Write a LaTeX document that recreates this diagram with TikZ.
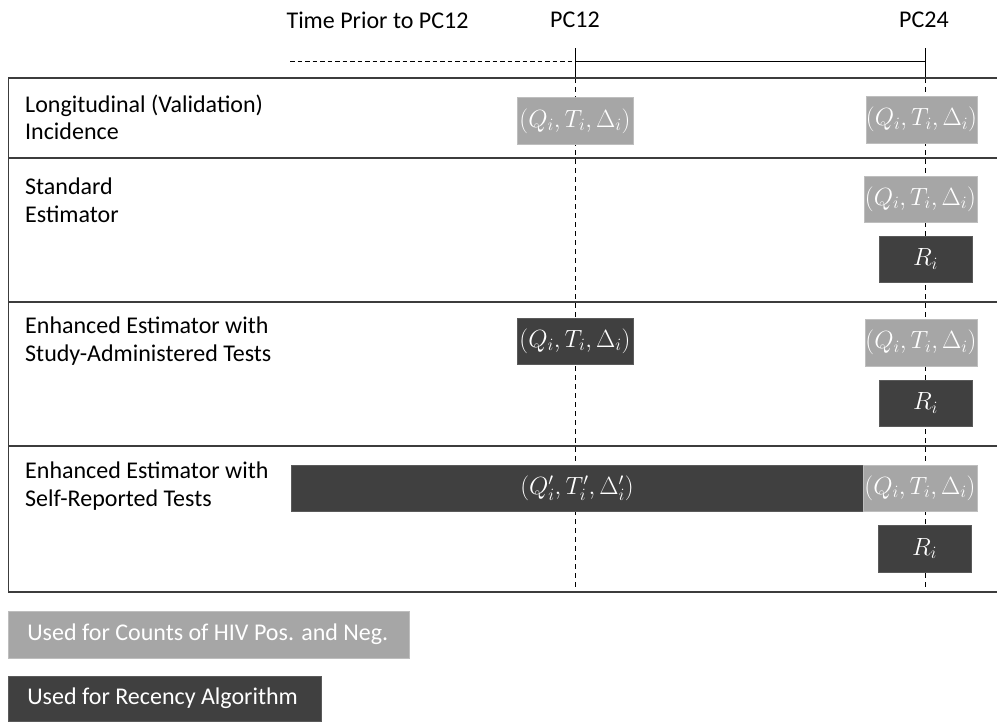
\documentclass[tikz,border=0pt]{standalone}
\usepackage{fontspec}
\setmainfont{Carlito}
\definecolor{figcolor0001}{RGB}{64,64,64}
\definecolor{figcolor0002}{RGB}{166,166,166}
\definecolor{figcolor0003}{RGB}{60,60,60}
\definecolor{figcolor0004}{RGB}{190,190,190}
\definecolor{figcolor0005}{RGB}{90,90,90}

\begin{document}
\begin{tikzpicture}[yscale=-1
            ,lightbox/.style={fill=figcolor0002,draw=figcolor0004,line width=0.6pt,text=white,inner sep=0pt,font=\fontsize{23}{26}\selectfont}
            ,darkbox/.style={fill=figcolor0001,draw=figcolor0005,line width=0.6pt,text=white,inner sep=0pt,font=\fontsize{23}{26}\selectfont}
            ,keybox/.style={anchor=west,inner xsep=19pt,inner ysep=0pt,font=\fontsize{24}{28}\selectfont}
            ,rowlabel/.style={anchor=west,inner sep=0pt,align=left,font=\fontsize{24}{27.5}\selectfont}
            ,headlabel/.style={inner sep=0pt,font=\fontsize{24}{28}\selectfont}
            ,rowrule/.style={color=figcolor0003,line width=1.3pt}
            ,guideline/.style={color=black,line width=0.8pt,dash pattern=on 4.5pt off 4.5pt}
            ,tline/.style={color=black,line width=0.8pt}
        ]
        \useasboundingbox (0pt,0pt) rectangle (997pt,721pt);
        \node[headlabel] (prior) at (377.5pt,20pt) {Time Prior to PC12};
        \node[headlabel] (pc12) at (575pt,20pt) {PC12};
        \node[headlabel] (pc24) at (924pt,20pt) {PC24};
        \coordinate (tstart) at (290pt,61pt);
        \coordinate (tpc12) at (575pt,61pt);
        \coordinate (tpc24) at (925pt,61pt);
        \coordinate (tick12top) at (575pt,48pt);
        \coordinate (tick12bot) at (575pt,78pt);
        \coordinate (tick24top) at (925pt,48pt);
        \coordinate (tick24bot) at (925pt,78pt);
        \coordinate (guide12end) at (575pt,592pt);
        \coordinate (guide24end) at (925pt,592pt);
        \draw[tline,dash pattern=on 4.5pt off 3pt] (tstart) -- (tpc12);
        \draw[tline] (tpc12) -- (tpc24);
        \draw[tline] (tick12top) -- (tick12bot);
        \draw[tline] (tick24top) -- (tick24bot);
        \draw[guideline] (tick12bot) -- (guide12end);
        \draw[guideline] (tick24bot) -- (guide24end);
        \draw[rowrule] (8pt,78pt) -- (997pt,78pt);
        \draw[rowrule] (8pt,158pt) -- (997pt,158pt);
        \draw[rowrule] (8pt,302pt) -- (997pt,302pt);
        \draw[rowrule] (8pt,446pt) -- (997pt,446pt);
        \draw[rowrule] (8pt,592pt) -- (997pt,592pt);
        \draw[rowrule,line width=1pt] (8pt,78pt) -- (8pt,592pt);
        \node[rowlabel] (longlab) at (25pt,117.5pt) {Longitudinal (Validation)\\Incidence};
        \node[lightbox,minimum width=116pt,minimum height=47pt] (longa) at (575pt,121pt) {$(Q_i,T_i,\Delta_i)$};
        \node[lightbox,minimum width=111pt,minimum height=47pt] (longb) at (921.5pt,119.5pt) {$(Q_i,T_i,\Delta_i)$};
        \node[rowlabel] (stdlab) at (25pt,200pt) {Standard\\Estimator};
        \node[lightbox,minimum width=113pt,minimum height=46pt] (stda) at (920.5pt,199pt) {$(Q_i,T_i,\Delta_i)$};
        \node[darkbox,minimum width=93pt,minimum height=46pt] (stdr) at (925.5pt,259pt) {$R_i$};
        \node[rowlabel] (studylab) at (25pt,341pt) {Enhanced Estimator with\\Study-Administered Tests};
        \node[darkbox,minimum width=116pt,minimum height=46pt] (studya) at (575pt,341pt) {$(Q_i,T_i,\Delta_i)$};
        \node[lightbox,minimum width=112pt,minimum height=47pt] (studyb) at (921pt,342.5pt) {$(Q_i,T_i,\Delta_i)$};
        \node[darkbox,minimum width=93pt,minimum height=46pt] (studyr) at (925.5pt,403pt) {$R_i$};
        \node[rowlabel] (selflab) at (25pt,486pt) {Enhanced Estimator with\\Self-Reported Tests};
        \node[darkbox,minimum width=572pt,minimum height=46pt] (selfa) at (577pt,488pt) {$(Q_i',T_i',\Delta_i')$};
        \node[lightbox,minimum width=114pt,minimum height=46pt] (selfb) at (920pt,488pt) {$(Q_i,T_i,\Delta_i)$};
        \node[darkbox,minimum width=93pt,minimum height=47pt] (selfr) at (924.5pt,548.5pt) {$R_i$};
        \node[lightbox,keybox,minimum height=47pt] (keycount) at (8pt,634.5pt) {\makebox[363pt][l]{Used for Counts of HIV Pos. and Neg.}};
        \node[darkbox,keybox,minimum height=45pt] (keyrecency) at (8pt,698.5pt) {\makebox[275pt][l]{Used for Recency Algorithm}};
    \end{tikzpicture}
\end{document}
